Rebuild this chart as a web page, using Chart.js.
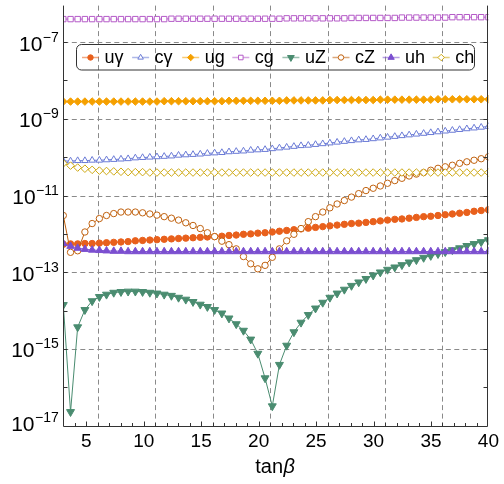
<!DOCTYPE html>
<html><head><meta charset="utf-8">
<script src="https://cdn.jsdelivr.net/npm/chart.js@4/dist/chart.umd.min.js"></script>
<style>html,body{margin:0;padding:0;background:#fff;overflow:hidden}canvas{display:block}</style>
</head><body>
<canvas id="c" width="504" height="484"></canvas>
<script>
// ---- data (y values stored as log10 of the quantity) ----
const tanBeta = [3.00,3.63,4.25,4.88,5.51,6.14,6.76,7.39,8.02,8.64,9.27,9.90,10.53,11.15,11.78,12.41,13.03,13.66,14.29,14.92,15.54,16.17,16.80,17.42,18.05,18.68,19.31,19.93,20.56,21.19,21.81,22.44,23.07,23.69,24.32,24.95,25.58,26.20,26.83,27.46,28.08,28.71,29.34,29.97,30.59,31.22,31.85,32.47,33.10,33.73,34.36,34.98,35.61,36.24,36.86,37.49,38.12,38.75,39.37,40.00];
const seriesNames = ['uγ','cγ','ug','cg','uZ','cZ','uh','ch'];
const log_uGamma = [-12.27,-12.26,-12.26,-12.25,-12.25,-12.24,-12.23,-12.22,-12.21,-12.20,-12.18,-12.17,-12.16,-12.15,-12.14,-12.13,-12.12,-12.11,-12.10,-12.09,-12.08,-12.07,-12.06,-12.04,-12.03,-12.01,-12.00,-11.98,-11.97,-11.95,-11.93,-11.91,-11.89,-11.87,-11.85,-11.83,-11.81,-11.79,-11.77,-11.75,-11.73,-11.72,-11.70,-11.68,-11.66,-11.64,-11.62,-11.61,-11.59,-11.57,-11.55,-11.54,-11.52,-11.50,-11.48,-11.46,-11.44,-11.41,-11.39,-11.37];
const log_cGamma = [-10.10,-10.10,-10.09,-10.09,-10.08,-10.08,-10.07,-10.06,-10.05,-10.04,-10.02,-10.01,-10.00,-9.99,-9.98,-9.97,-9.95,-9.94,-9.93,-9.92,-9.90,-9.89,-9.88,-9.86,-9.85,-9.84,-9.82,-9.81,-9.80,-9.78,-9.76,-9.74,-9.72,-9.70,-9.69,-9.67,-9.65,-9.63,-9.61,-9.59,-9.57,-9.55,-9.54,-9.52,-9.50,-9.48,-9.46,-9.44,-9.42,-9.40,-9.38,-9.36,-9.34,-9.32,-9.30,-9.28,-9.26,-9.24,-9.22,-9.20];
const log_ug = [-8.55,-8.55,-8.55,-8.55,-8.55,-8.55,-8.55,-8.55,-8.55,-8.55,-8.55,-8.55,-8.55,-8.55,-8.54,-8.54,-8.54,-8.54,-8.54,-8.54,-8.54,-8.54,-8.54,-8.53,-8.53,-8.53,-8.53,-8.53,-8.53,-8.53,-8.53,-8.52,-8.52,-8.52,-8.52,-8.52,-8.52,-8.51,-8.51,-8.51,-8.51,-8.51,-8.51,-8.51,-8.50,-8.50,-8.50,-8.50,-8.50,-8.50,-8.50,-8.50,-8.49,-8.49,-8.49,-8.49,-8.49,-8.49,-8.49,-8.49];
const log_cg = [-6.40,-6.40,-6.40,-6.40,-6.40,-6.40,-6.40,-6.40,-6.40,-6.40,-6.40,-6.40,-6.40,-6.40,-6.40,-6.39,-6.39,-6.39,-6.39,-6.39,-6.39,-6.39,-6.39,-6.39,-6.39,-6.39,-6.39,-6.39,-6.39,-6.39,-6.39,-6.38,-6.38,-6.38,-6.38,-6.38,-6.38,-6.38,-6.38,-6.38,-6.37,-6.37,-6.37,-6.37,-6.37,-6.37,-6.37,-6.36,-6.36,-6.36,-6.36,-6.36,-6.36,-6.36,-6.35,-6.35,-6.35,-6.35,-6.35,-6.35];
const log_uZ = [-13.85,-16.64,-14.43,-13.98,-13.75,-13.64,-13.58,-13.53,-13.51,-13.50,-13.50,-13.51,-13.53,-13.55,-13.58,-13.61,-13.66,-13.71,-13.77,-13.84,-13.90,-13.98,-14.07,-14.20,-14.35,-14.52,-14.75,-15.12,-15.76,-16.49,-15.41,-14.91,-14.56,-14.31,-14.11,-13.94,-13.79,-13.66,-13.55,-13.45,-13.35,-13.26,-13.17,-13.08,-13.00,-12.93,-12.87,-12.81,-12.74,-12.68,-12.62,-12.57,-12.52,-12.47,-12.42,-12.37,-12.31,-12.26,-12.21,-12.16];
const log_cZ = [-11.52,-12.48,-12.44,-11.95,-11.73,-11.60,-11.52,-11.47,-11.43,-11.43,-11.43,-11.45,-11.48,-11.51,-11.55,-11.59,-11.64,-11.71,-11.78,-11.86,-11.97,-12.07,-12.19,-12.28,-12.39,-12.59,-12.78,-12.91,-12.82,-12.61,-12.39,-12.18,-12.01,-11.86,-11.68,-11.55,-11.43,-11.32,-11.22,-11.13,-11.04,-10.95,-10.87,-10.81,-10.75,-10.68,-10.61,-10.55,-10.49,-10.44,-10.40,-10.34,-10.29,-10.25,-10.21,-10.16,-10.12,-10.08,-10.04,-9.99];
const log_uh = [-12.25,-12.32,-12.37,-12.40,-12.42,-12.43,-12.44,-12.45,-12.45,-12.46,-12.46,-12.46,-12.46,-12.46,-12.46,-12.46,-12.46,-12.46,-12.46,-12.46,-12.46,-12.46,-12.46,-12.46,-12.46,-12.46,-12.46,-12.46,-12.46,-12.46,-12.46,-12.46,-12.46,-12.46,-12.46,-12.46,-12.46,-12.46,-12.46,-12.46,-12.46,-12.46,-12.46,-12.46,-12.46,-12.46,-12.46,-12.46,-12.46,-12.46,-12.46,-12.46,-12.46,-12.46,-12.46,-12.46,-12.46,-12.46,-12.46,-12.46];
const log_ch = [-10.16,-10.22,-10.27,-10.30,-10.33,-10.35,-10.36,-10.37,-10.38,-10.39,-10.39,-10.39,-10.40,-10.40,-10.40,-10.40,-10.40,-10.40,-10.40,-10.40,-10.40,-10.40,-10.40,-10.40,-10.40,-10.40,-10.40,-10.40,-10.40,-10.40,-10.40,-10.40,-10.40,-10.40,-10.40,-10.40,-10.40,-10.40,-10.40,-10.40,-10.40,-10.40,-10.40,-10.40,-10.40,-10.40,-10.40,-10.40,-10.40,-10.40,-10.40,-10.40,-10.40,-10.40,-10.40,-10.40,-10.40,-10.40,-10.40,-10.40];
const yTickExponents = [-7,-9,-11,-13,-15,-17];
const xTickLabels = [5,10,15,20,25,30,35,40];
const xGridValues = [6,11,16,21,26,31,36];
const xTitle = ['tan','β'];

// ---- styles ----
const seriesLogs = [log_uGamma,log_cGamma,log_ug,log_cg,log_uZ,log_cZ,log_uh,log_ch];
const styles = [
  {color:'#E8601C', point:'circle',   fill:true,  r:3.2},
  {color:'#6B7BD6', point:'triangle', fill:false, r:3.8},
  {color:'#F5A000', point:'rectRot',  fill:true,  r:3.8},
  {color:'#B55BC8', point:'rect',     fill:false, r:3.8},
  {color:'#4A8C70', point:'triangle', fill:true,  r:4.6, rot:180},
  {color:'#C0610E', point:'circle',   fill:false, r:3.2},
  {color:'#7B4FD0', point:'triangle', fill:true,  r:4.3},
  {color:'#CDA812', point:'rectRot',  fill:false, r:3.8}
];
const FONT = '"Liberation Sans", Arial, Helvetica, sans-serif';
const Y_TOP_EXP = -6.048;

const decorations = {
  id:'decorations',
  beforeDatasetsDraw(chart){
    const {ctx, chartArea:a, scales:{x,y}} = chart;
    ctx.save();
    ctx.strokeStyle = '#8a8a8a'; ctx.lineWidth = 1; ctx.setLineDash([5,3.5]);
    xGridValues.forEach(v=>{
      const px = Math.round(x.getPixelForValue(v))+0.5;
      ctx.beginPath(); ctx.moveTo(px,a.top); ctx.lineTo(px,a.bottom); ctx.stroke();
    });
    yTickExponents.forEach(e=>{
      if (e === -17) return;
      const py = Math.round(y.getPixelForValue(Math.pow(10,e)))+0.5;
      ctx.beginPath(); ctx.moveTo(a.left,py); ctx.lineTo(a.right,py); ctx.stroke();
    });
    ctx.restore();
  },
  afterDatasetsDraw(chart){
    const {ctx, chartArea:a, scales:{x,y}} = chart;
    ctx.save();
    // frame
    ctx.strokeStyle = '#333'; ctx.lineWidth = 1; ctx.setLineDash([]);
    const L = Math.round(a.left)+0.5, R = Math.round(a.right)-0.5, B = Math.round(a.bottom)+0.5;
    ctx.beginPath(); ctx.moveTo(L,a.top); ctx.lineTo(L,B); ctx.lineTo(R,B); ctx.lineTo(R,a.top); ctx.stroke();
    // x tick marks
    for (let v=4; v<=39; v++){
      const px = Math.round(x.getPixelForValue(v))+0.5;
      const len = (v%5===0)?5:3.5;
      ctx.beginPath(); ctx.moveTo(px,B); ctx.lineTo(px,B-len); ctx.stroke();
    }
    // y tick marks
    for (let e=-16; e<=-6; e++){
      const py = Math.round(y.getPixelForValue(Math.pow(10,e)))+0.5;
      if (py < a.top || py > a.bottom) continue;
      ctx.beginPath(); ctx.moveTo(L,py); ctx.lineTo(L+4,py); ctx.stroke();
      ctx.beginPath(); ctx.moveTo(R,py); ctx.lineTo(R-4,py); ctx.stroke();
    }
    // y labels 10^n
    ctx.fillStyle = '#000'; ctx.textAlign = 'right'; ctx.textBaseline = 'alphabetic';
    yTickExponents.forEach(e=>{
      const py = y.getPixelForValue(Math.pow(10,e));
      const exp = '\u2212' + Math.abs(e);
      const rightX = a.left - 4.5;
      const shift = (e === -17) ? -3.5 : 0;
      ctx.font = '14px ' + FONT;
      const ew = ctx.measureText(exp).width;
      ctx.fillText(exp, rightX, py - 0.5 + shift);
      ctx.font = '21px ' + FONT;
      ctx.fillText('10', rightX - ew - 0.5, py + 8.5 + shift);
    });
    // x title
    ctx.textAlign = 'left';
    ctx.font = '20px ' + FONT;
    const w1 = ctx.measureText(xTitle[0]).width;
    ctx.font = 'italic 20px ' + FONT;
    const w2 = ctx.measureText(xTitle[1]).width;
    const cx = (a.left + a.right)/2 - 1;
    const sx = cx - (w1+w2)/2;
    ctx.font = '20px ' + FONT;
    ctx.fillText(xTitle[0], sx, 473);
    ctx.font = 'italic 20px ' + FONT;
    ctx.fillText(xTitle[1], sx + w1 + 0.5, 473);
    // legend
    ctx.strokeStyle = '#333'; ctx.lineWidth = 1;
    ctx.beginPath(); ctx.roundRect(76.5, 44.5, 398, 25.5, 5); ctx.stroke();
    const ly = 57.5;
    chart.data.datasets.forEach((ds,k)=>{
      const st = styles[k];
      const lx = 82 + k*50.1;
      ctx.globalAlpha = 0.55; ctx.strokeStyle = st.color; ctx.lineWidth = 1.5;
      ctx.beginPath(); ctx.moveTo(lx, ly); ctx.lineTo(lx+17, ly); ctx.stroke();
      ctx.globalAlpha = 1; ctx.lineWidth = 1;
      ctx.fillStyle = st.fill ? st.color : '#fff';
      Chart.helpers.drawPoint(ctx, {pointStyle: st.point, radius: st.r*0.85, rotation: st.rot||0, borderWidth:1}, lx+8.5, ly);
      ctx.fillStyle = '#000'; ctx.font = '18px ' + FONT; ctx.textAlign='left'; ctx.textBaseline='middle';
      ctx.fillText(ds.label, lx+22.5, ly+0.5);
    });
    ctx.restore();
  }
};

new Chart(document.getElementById('c'), {
  type:'line',
  data:{
    datasets: seriesNames.map((name,k)=>{
      const st = styles[k];
      return {
        label:name,
        data: tanBeta.map((xv,i)=>({x:xv, y:Math.pow(10, seriesLogs[k][i])})),
        borderColor: st.color,
        backgroundColor: st.fill ? st.color : '#fff',
        borderWidth: 1,
        pointStyle: st.point,
        pointRadius: st.r,
        pointRotation: st.rot || 0,
        pointBorderWidth: 1,
        pointBackgroundColor: st.fill ? st.color : '#fff',
        pointBorderColor: st.color,
        tension: 0,
        order: 8 - k
      };
    })
  },
  options:{
    responsive:false, animation:false, devicePixelRatio:1,
    layout:{padding:{left:0, right:12.3, top:0, bottom:0}},
    plugins:{legend:{display:false}, tooltip:{enabled:false}},
    scales:{
      x:{type:'linear', min:3, max:40,
         grid:{display:false, drawTicks:false}, border:{display:false},
         ticks:{font:{family:FONT, size:19}, color:'#000', padding:5, maxRotation:0, autoSkip:false},
         afterBuildTicks: s=>{ s.ticks = xTickLabels.map(v=>({value:v})); },
         afterFit: s=>{ s.height = 58.3; }},
      y:{type:'logarithmic', min:1e-17, max:Math.pow(10, Y_TOP_EXP),
         grid:{display:false, drawTicks:false}, border:{display:false},
         ticks:{display:false},
         afterBuildTicks: s=>{ s.ticks = yTickExponents.map(e=>({value:Math.pow(10,e)})); },
         afterFit: s=>{ s.width = 63.3; }}
    }
  },
  plugins:[decorations]
});
</script>
</body></html>
